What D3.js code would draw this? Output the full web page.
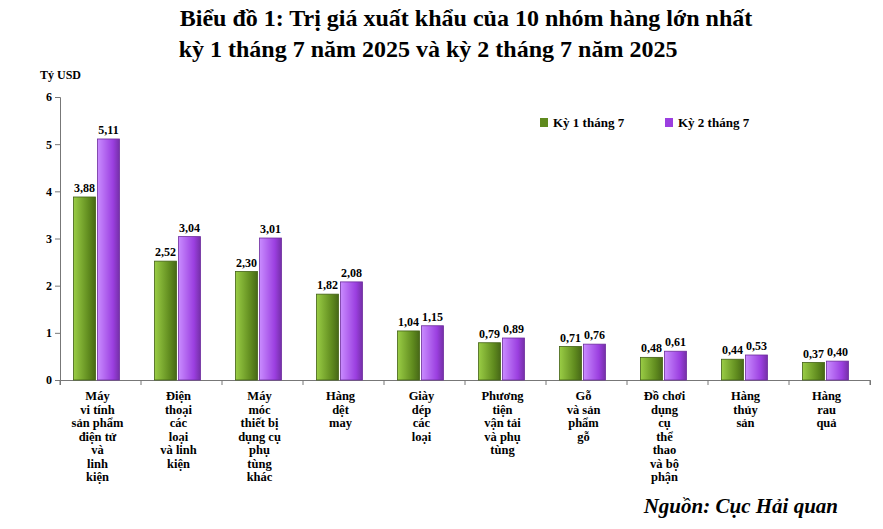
<!DOCTYPE html>
<html><head><meta charset="utf-8">
<script src="https://cdn.jsdelivr.net/npm/d3@7"></script>
<style>body{margin:0;background:#fff}svg{font-family:"Liberation Serif","Times New Roman",serif;font-weight:bold}</style>
</head><body><svg id="c" width="883" height="529"></svg>
<script>
// Categories (lines of each label)
const categories = [
  ["Máy","vi tính","sản phẩm","điện tử","và","linh","kiện"],
  ["Điện","thoại","các","loại","và linh","kiện"],
  ["Máy","móc","thiết bị","dụng cụ","phụ","tùng","khác"],
  ["Hàng","dệt","may"],
  ["Giày","dép","các","loại"],
  ["Phương","tiện","vận tải","và phụ","tùng"],
  ["Gỗ","và sản","phẩm","gỗ"],
  ["Đồ chơi","dụng","cụ","thể","thao","và bộ","phận"],
  ["Hàng","thủy","sản"],
  ["Hàng","rau","quả"]
];
const ky1 = [3.88, 2.52, 2.30, 1.82, 1.04, 0.79, 0.71, 0.48, 0.44, 0.37];
const ky2 = [5.11, 3.04, 3.01, 2.08, 1.15, 0.89, 0.76, 0.61, 0.53, 0.40];
const seriesNames = ["Kỳ 1 tháng 7", "Kỳ 2 tháng 7"];
const yTicks = [0, 1, 2, 3, 4, 5, 6];

const svg = d3.select("#c");
const colors = ["#5f8a1e", "#9b3fe0"];
const light = ["#9acd45", "#c98cff"];

const defs = svg.append("defs");
colors.forEach((c, i) => {
  const g = defs.append("linearGradient").attr("id", "g" + i);
  g.append("stop").attr("offset", "0%").attr("stop-color", light[i]);
  g.append("stop").attr("offset", "70%").attr("stop-color", colors[i]);
  g.append("stop").attr("offset", "100%").attr("stop-color", d3.color(colors[i]).darker(0.8));
});

const x = d3.scaleBand().domain(d3.range(10)).range([60, 870]);
const y = d3.scaleLinear().domain([0, 6]).range([380, 97]);

// title
svg.append("text").attr("x", 466).attr("y", 26).attr("text-anchor", "middle")
  .attr("font-size", 24).text("Biểu đồ 1: Trị giá xuất khẩu của 10 nhóm hàng lớn nhất");
svg.append("text").attr("x", 428).attr("y", 57).attr("text-anchor", "middle")
  .attr("font-size", 24).text("kỳ 1 tháng 7 năm 2025 và kỳ 2 tháng 7 năm 2025");
svg.append("text").attr("x", 40).attr("y", 79).attr("font-size", 12).text("Tỷ USD");

// y axis
const ya = svg.append("g").attr("transform", "translate(60,0)")
  .call(d3.axisLeft(y).tickValues(yTicks).tickSize(5).tickFormat(d3.format("d")));
ya.selectAll("text").attr("font-size", 12).attr("font-family", "Liberation Serif").attr("font-weight", "bold").attr("fill", "#000");
ya.select(".domain").attr("stroke", "#777");
ya.selectAll("line").attr("stroke", "#777");

// x axis
const xa = svg.append("g").attr("transform", "translate(0,380)")
  .call(d3.axisBottom(x).tickSize(5).tickFormat(""));
xa.selectAll(".tick").attr("transform", d => `translate(${x(d)},0)`);
xa.append("line").attr("x1", 870).attr("x2", 870).attr("y2", 5).attr("stroke", "#777");
xa.selectAll("line").attr("stroke", "#777");
xa.select(".domain").attr("stroke", "#777");

const bw = 22;
[ky1, ky2].forEach((vals, s) => {
  const gx = i => x(i) + x.bandwidth() / 2 - bw + s * (bw + 2) - 5;
  svg.append("g").selectAll("rect").data(vals).join("rect")
    .attr("x", (d, i) => gx(i)).attr("width", bw)
    .attr("y", d => y(d)).attr("height", d => 380 - y(d))
    .attr("fill", `url(#g${s})`).attr("stroke", d3.color(colors[s]).darker(1)).attr("stroke-width", 0.8);
  svg.append("g").selectAll("text").data(vals).join("text")
    .attr("x", (d, i) => gx(i) + bw / 2).attr("y", d => y(d) - 5)
    .attr("text-anchor", "middle").attr("font-size", 12)
    .text(d => d.toFixed(2).replace(".", ","));
});

// category labels
categories.forEach((lines, i) => {
  const cx = x(i) + x.bandwidth() / 2 - 3;
  const t = svg.append("text").attr("x", cx).attr("y", 400)
    .attr("text-anchor", "middle").attr("font-size", 12.5);
  lines.forEach((l, j) => t.append("tspan").attr("x", cx).attr("dy", j ? 13.5 : 0).text(l));
});

// legend
const lg = svg.append("g").attr("transform", "translate(540,118)");
seriesNames.forEach((n, i) => {
  const g = lg.append("g").attr("transform", `translate(${i * 125},0)`);
  g.append("rect").attr("width", 8).attr("height", 9).attr("fill", colors[i]);
  g.append("text").attr("x", 13).attr("y", 9).attr("font-size", 13).text(n);
});

svg.append("text").attr("x", 838).attr("y", 513).attr("text-anchor", "end")
  .attr("font-size", 21).attr("font-style", "italic").text("Nguồn: Cục Hải quan");
</script></body></html>
